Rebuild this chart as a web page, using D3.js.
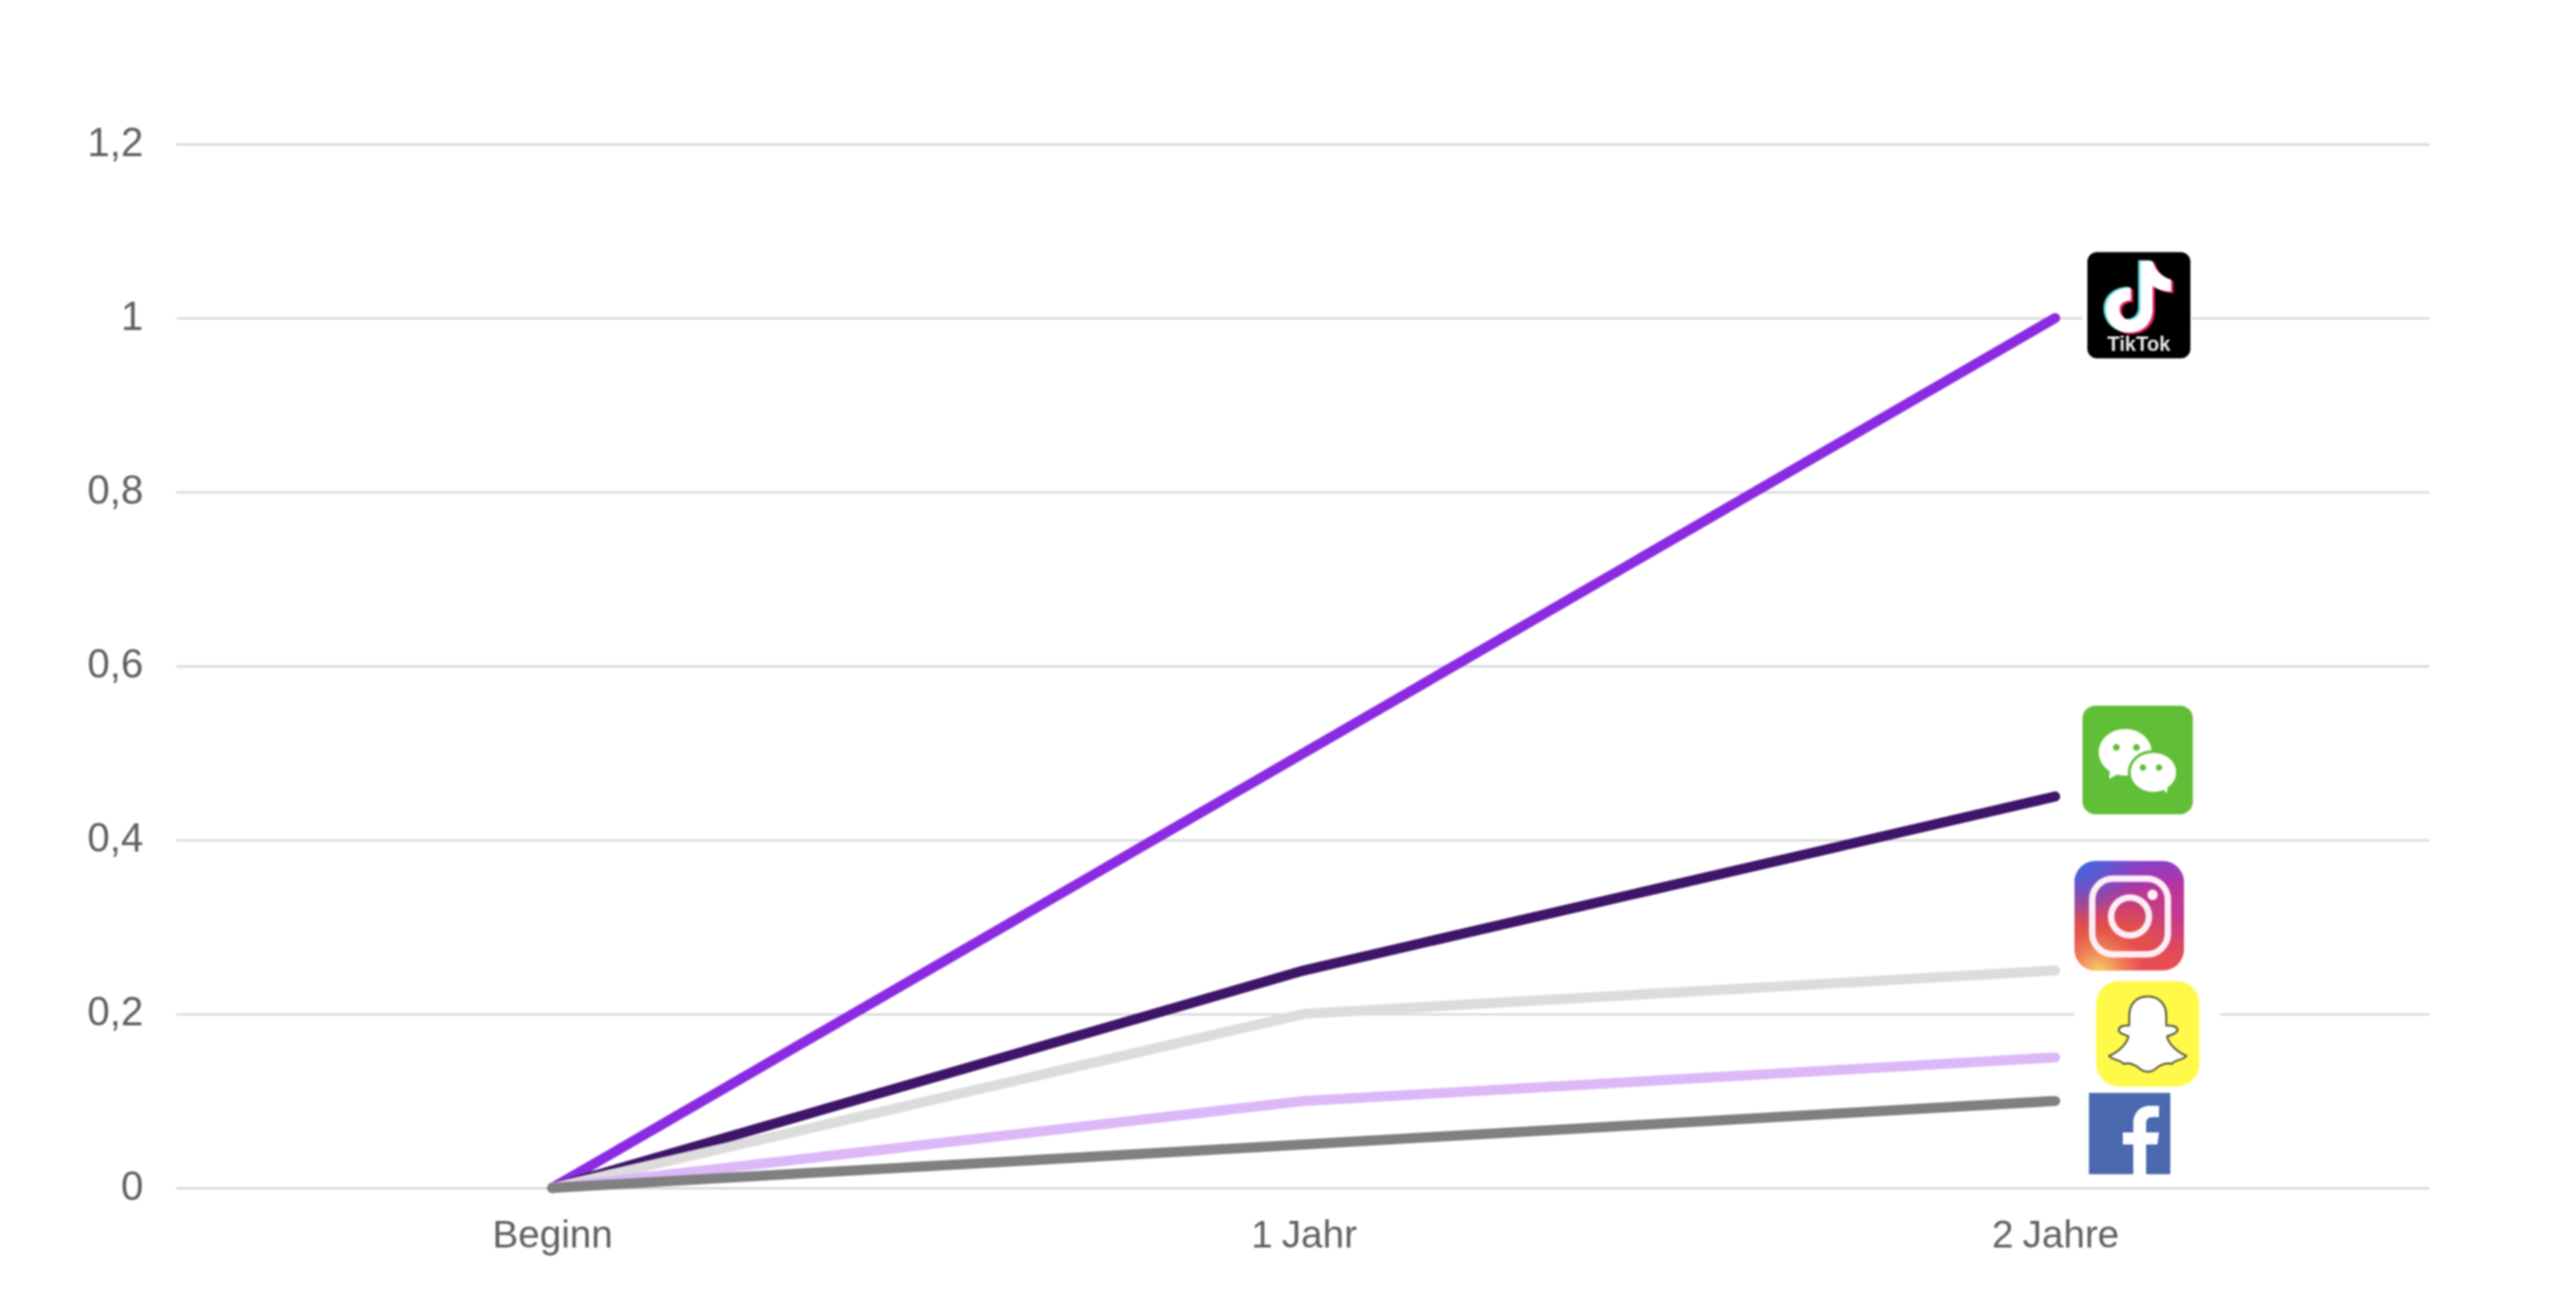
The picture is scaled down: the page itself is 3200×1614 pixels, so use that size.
<!DOCTYPE html>
<html lang="de">
<head>
<meta charset="utf-8">
<title>Soziale Netzwerke</title>
<script src="https://cdn.jsdelivr.net/npm/d3@7"></script>
<style>
html,body{margin:0;padding:0;background:#fff;}
svg{display:block;filter:blur(0.8px);}
text{font-family:"Liberation Sans",Arial,sans-serif;}
</style>
</head>
<body>
<svg id="chart" width="3200" height="1614" xmlns="http://www.w3.org/2000/svg"></svg>
<script>
// ---- data ----
const categories = ["Beginn", "1 Jahr", "2 Jahre"];
const seriesNames = ["TikTok", "WeChat", "Instagram", "Snapchat", "Facebook"];
const tiktok = [0, 0.5, 1];
const wechat = [0, 0.25, 0.45];
const instagram = [0, 0.2, 0.25];
const snapchat = [0, 0.1, 0.15];
const facebook = [0, 0.05, 0.1];
const yTicks = [0, 0.2, 0.4, 0.6, 0.8, 1, 1.2];
const yTickLabels = ["0", "0,2", "0,4", "0,6", "0,8", "1", "1,2"];

// ---- styles ----
const seriesColors = ["#8a2be2", "#3f1569", "#dcdcdc", "#dcb8f8", "#808080"];
const gridColor = "#d9d9d9", textColor = "#5f5f5f";
const fontSize = 48, yFontSize = 50, lineWidth = 12.5;

const svg = d3.select("#chart");
const defs = svg.append("defs");

const x = d3.scalePoint().domain(categories).range([686, 2553]);
const y = d3.scaleLinear().domain([0, 1.2]).range([1476, 179]);
const gridLeft = 219, gridRight = 3018;

// ---- y axis + gridlines ----
const yAxis = d3.axisLeft(y)
  .tickValues(yTicks)
  .tickFormat((d, i) => yTickLabels[i])
  .tickSize(gridRight - gridLeft)
  .tickPadding(41);
const yG = svg.append("g").attr("transform", `translate(${gridRight},0)`).call(yAxis);
yG.select(".domain").remove();
yG.selectAll("line").attr("stroke", gridColor).attr("stroke-width", 2.8);
yG.selectAll("text")
  .attr("fill", textColor).attr("font-size", yFontSize)
  .attr("font-family", '"Liberation Sans",Arial,sans-serif')
  .attr("dy", null).attr("y", 14);

// ---- x axis ----
const xAxis = d3.axisBottom(x).tickSize(0).tickPadding(0);
const xG = svg.append("g").attr("transform", `translate(0,${y(0)})`).call(xAxis);
xG.select(".domain").remove();
xG.selectAll("text")
  .attr("fill", textColor).attr("font-size", fontSize)
  .attr("font-family", '"Liberation Sans",Arial,sans-serif')
  .attr("word-spacing", -2)
  .attr("dy", null).attr("y", 74);

// ---- lines ----
const allSeries = [tiktok, wechat, instagram, snapchat, facebook];
const line = d3.line().x((d, i) => x(categories[i])).y(d => y(d));
svg.append("g").selectAll("path")
  .data(allSeries).join("path")
  .attr("d", line)
  .attr("fill", "none")
  .attr("stroke", (d, i) => seriesColors[i])
  .attr("stroke-width", lineWidth)
  .attr("stroke-linecap", "round")
  .attr("stroke-linejoin", "round");

// ---- logo icons, anchored to each series' end point ----
const lastX = x(categories[categories.length - 1]);
function iconGroup(values, dx, dy) {
  return svg.append("g").attr("transform", `translate(${lastX + dx},${y(values[values.length - 1]) + dy})`);
}

// TikTok
(function () {
  const g = iconGroup(tiktok, 40, -82);
  g.append("rect").attr("x", -6).attr("y", -4).attr("width", 136).attr("height", 140).attr("fill", "#fff");
  g.append("rect").attr("width", 128).attr("height", 132).attr("rx", 12).attr("fill", "#000");
  const note = "M66,11 H81 C84,23 93,31 104,34 V49 C95,49 87,46 81,42 V70 C81,90 68,100 51,100 C35,100 23,87 23,71 C23,54 37,44 54,44 V60 C46,60 40,64 40,71 C40,78 46,84 52,84 C60,84 66,78 66,70 Z";
  g.append("path").attr("d", note).attr("fill", "#5fd8dc").attr("transform", "translate(-3,-1)");
  g.append("path").attr("d", note).attr("fill", "#e8245a").attr("transform", "translate(3,2)");
  g.append("path").attr("d", note).attr("fill", "#fff");
  g.append("text").attr("x", 64).attr("y", 123).attr("text-anchor", "middle")
    .attr("font-size", 25).attr("font-weight", "bold").attr("fill", "#e8e8e8").text(seriesNames[0]);
})();

// WeChat
(function () {
  const g = iconGroup(wechat, 34, -113);
  const green = "#61be37";
  g.append("rect").attr("width", 137).attr("height", 135).attr("rx", 16).attr("fill", green);
  g.append("ellipse").attr("cx", 53).attr("cy", 58).attr("rx", 33).attr("ry", 29).attr("fill", "#fff");
  g.append("path").attr("d", "M34,78 L33,91 L50,82 Z").attr("fill", "#fff");
  g.append("ellipse").attr("cx", 88).attr("cy", 83).attr("rx", 30).attr("ry", 26).attr("fill", "#fff").attr("stroke", green).attr("stroke-width", 3.5);
  g.append("path").attr("d", "M96,100 L105,109 L106,96 Z").attr("fill", "#fff");
  [[42, 52, 4.2], [67, 52, 4.2], [75, 77, 3.8], [95, 77, 3.8]].forEach(e =>
    g.append("circle").attr("cx", e[0]).attr("cy", e[1]).attr("r", e[2]).attr("fill", green));
})();

// Instagram
(function () {
  const g = iconGroup(instagram, 24, -136);
  const base = defs.append("linearGradient").attr("id", "igBase").attr("x1", 0).attr("y1", 0).attr("x2", 0).attr("y2", 1);
  [[0, "#8a40c8"], [0.18, "#a535b0"], [0.38, "#c63c80"], [0.6, "#e25048"], [1, "#e84d55"]].forEach(s =>
    base.append("stop").attr("offset", s[0]).attr("stop-color", s[1]));
  const blue = defs.append("radialGradient").attr("id", "igBlue").attr("cx", 0.05).attr("cy", 0).attr("r", 0.55);
  blue.append("stop").attr("offset", 0).attr("stop-color", "#3a6be0");
  blue.append("stop").attr("offset", 1).attr("stop-color", "#3a6be0").attr("stop-opacity", 0);
  const yellow = defs.append("radialGradient").attr("id", "igYellow").attr("cx", 0.22).attr("cy", 1.02).attr("r", 0.42);
  yellow.append("stop").attr("offset", 0).attr("stop-color", "#f8d868");
  yellow.append("stop").attr("offset", 1).attr("stop-color", "#f8a050").attr("stop-opacity", 0);
  const mag = defs.append("radialGradient").attr("id", "igMag").attr("cx", 1).attr("cy", 0.45).attr("r", 0.45);
  mag.append("stop").attr("offset", 0).attr("stop-color", "#c0359a");
  mag.append("stop").attr("offset", 1).attr("stop-color", "#c0359a").attr("stop-opacity", 0);
  ["igBase", "igMag", "igBlue", "igYellow"].forEach(id =>
    g.append("rect").attr("width", 136).attr("height", 136).attr("rx", 26).attr("fill", `url(#${id})`));
  g.append("rect").attr("x", 22).attr("y", 22).attr("width", 94).attr("height", 94).attr("rx", 26)
    .attr("fill", "none").attr("stroke", "#fdeef6").attr("stroke-width", 8);
  g.append("circle").attr("cx", 69).attr("cy", 69).attr("r", 23.5).attr("fill", "none").attr("stroke", "#fdeef6").attr("stroke-width", 8);
  g.append("circle").attr("cx", 97).attr("cy", 42).attr("r", 6.5).attr("fill", "#fdeef6");
})();

// Snapchat
(function () {
  const g = iconGroup(snapchat, 51, -95);
  g.append("rect").attr("x", -27).attr("y", -2).attr("width", 181).attr("height", 135).attr("fill", "#fff");
  g.append("rect").attr("width", 128).attr("height", 131).attr("rx", 28).attr("fill", "#fff94a");
  g.append("path")
    .attr("d", "M64,19 C50,19 41,29 41,43 L41,55 C36,55 28,56 28,61 C28,65 36,67 40,69 C38,79 26,89 16,93 C20,99 30,97 34,103 C42,101 50,105 54,109 C60,114 68,114 74,109 C78,105 86,101 94,103 C98,97 108,99 112,93 C102,89 90,79 88,69 C92,67 101,65 101,61 C101,56 92,55 87,55 L87,43 C87,29 78,19 64,19 Z")
    .attr("fill", "#fff").attr("stroke", "#5c5c3c").attr("stroke-width", 2.5).attr("stroke-linejoin", "round");
})();

// Facebook
(function () {
  const g = iconGroup(facebook, 42, -10);
  g.append("rect").attr("width", 101).attr("height", 101).attr("fill", "#4a69af");
  g.append("path")
    .attr("d", "M55,101 V64 H42 V49 H55 V38 C55,24 64,16 76,16 H87 V30 H79 C73,30 71,33 71,38 V49 H87 L85,64 H71 V101 Z")
    .attr("fill", "#fff");
})();
</script>
</body>
</html>
